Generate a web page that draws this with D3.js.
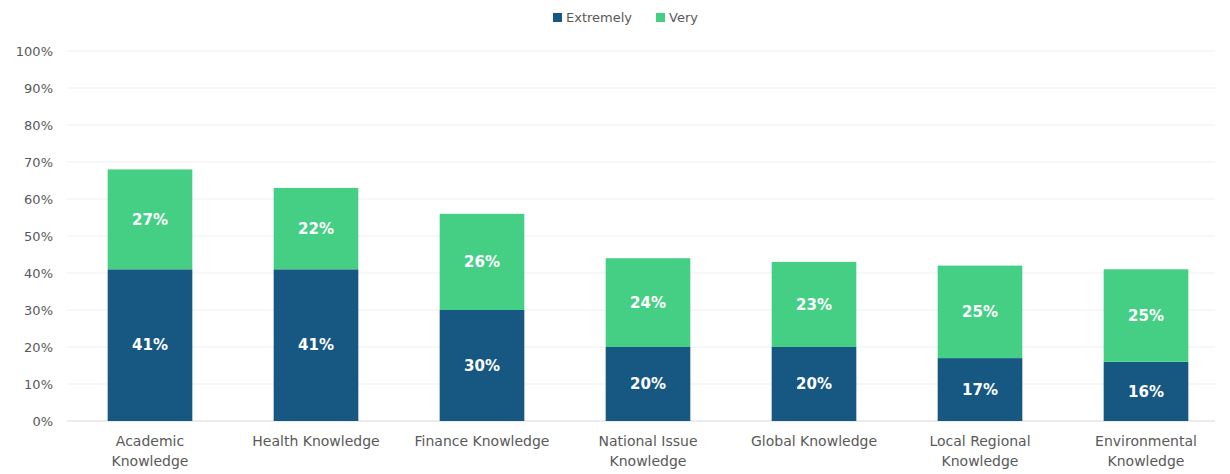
<!DOCTYPE html>
<html><head><meta charset="utf-8">
<script src="https://cdn.jsdelivr.net/npm/d3@7"></script>
<style>body{margin:0;background:#fff}svg{display:block}</style>
</head><body>
<svg id="c" width="1230" height="474"></svg>
<script>
const categories = [["Academic","Knowledge"],["Health Knowledge"],["Finance Knowledge"],["National Issue","Knowledge"],["Global Knowledge"],["Local Regional","Knowledge"],["Environmental","Knowledge"]];
const seriesNames = ["Extremely","Very"];
const extremely = [41,41,30,20,20,17,16];
const very = [27,22,26,24,23,25,25];
const yTicks = [0,10,20,30,40,50,60,70,80,90,100];
const colors = ["#175883","#44cf85"];

const svg = d3.select("#c");
const font = "'DejaVu Sans', sans-serif";
const x = d3.scaleBand().domain(d3.range(categories.length)).range([67,1229]).paddingInner(0.49).paddingOuter(0.245);
const y = d3.scaleLinear().domain([0,100]).range([421,51]);

// grid
svg.append("g").selectAll("line").data(yTicks).join("line")
  .attr("x1",67).attr("x2",1215).attr("y1",d=>y(d)).attr("y2",d=>y(d))
  .attr("stroke",d=>d===0?"#d9d9d9":"#efefef").attr("stroke-width",1);

const yAxis = d3.axisLeft(y).tickValues(yTicks).tickFormat(d=>d+"%").tickSize(0).tickPadding(0);
const ya = svg.append("g").attr("transform","translate(53,0)").call(yAxis);
ya.select(".domain").remove();
ya.selectAll("text").attr("font-family",font).attr("font-size",13).attr("fill","#595959");

const stacked = d3.stack().keys([0,1]).value((i,k)=> k===0?extremely[i]:very[i])(d3.range(categories.length));
const g = svg.append("g");
stacked.forEach((s,si)=>{
  g.selectAll(null).data(s).join("rect")
    .attr("x",(d,i)=>x(i)).attr("width",x.bandwidth())
    .attr("y",d=>y(d[1])).attr("height",d=>y(d[0])-y(d[1]))
    .attr("fill",colors[si]);
  g.selectAll(null).data(s).join("text")
    .attr("x",(d,i)=>x(i)+x.bandwidth()/2).attr("y",d=>(y(d[0])+y(d[1]))/2)
    .attr("dy","0.35em").attr("text-anchor","middle")
    .attr("font-family",font).attr("font-weight",700).attr("font-size",15).attr("fill","#fff")
    .text((d,i)=>(si===0?extremely[i]:very[i])+"%");
});

// category labels
const xl = svg.append("g");
categories.forEach((lines,i)=>{
  const t = xl.append("text").attr("text-anchor","middle").attr("font-family",font).attr("font-size",14).attr("fill","#595959");
  lines.forEach((ln,j)=>t.append("tspan").attr("x",x(i)+x.bandwidth()/2).attr("y",446+j*20).text(ln));
});

// legend
const lg = svg.append("g");
const items = [{n:seriesNames[0],c:colors[0],x:553},{n:seriesNames[1],c:colors[1],x:656}];
items.forEach(it=>{
  lg.append("rect").attr("x",it.x).attr("y",13).attr("width",9).attr("height",9).attr("fill",it.c);
  lg.append("text").attr("x",it.x+13).attr("y",22).attr("font-family",font).attr("font-size",13).attr("fill","#595959").text(it.n);
});
</script>
</body></html>
